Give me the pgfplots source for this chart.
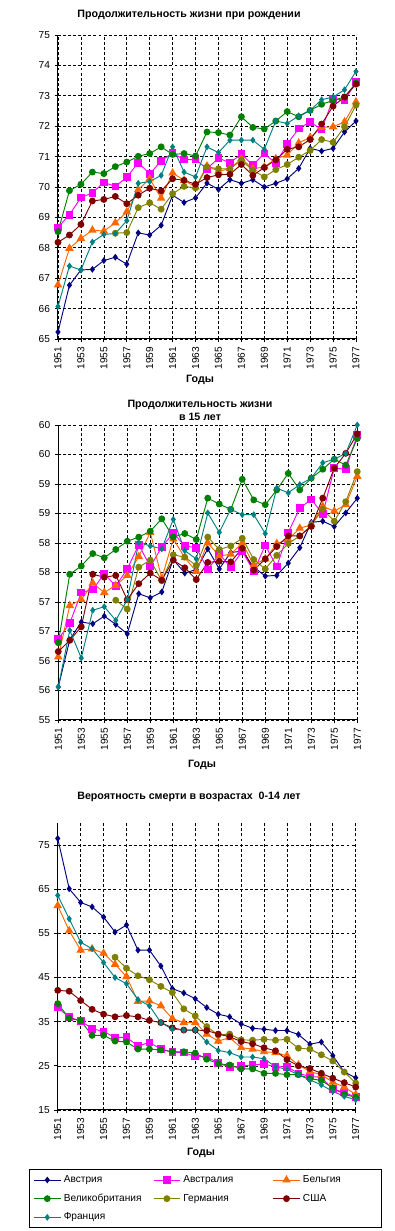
\documentclass[border=0pt]{standalone}
\usepackage{fontspec}
\setmainfont{Liberation Sans}
\usepackage{pgfplots}
\usepackage{pgfplotstable}
\pgfplotsset{compat=1.18}

\definecolor{cAut}{RGB}{0,0,128}
\definecolor{cAus}{RGB}{255,0,255}
\definecolor{cBel}{RGB}{255,102,0}
\definecolor{cGbr}{RGB}{0,128,0}
\definecolor{cGer}{RGB}{128,128,0}
\definecolor{cUsa}{RGB}{128,0,0}
\definecolor{cFra}{RGB}{0,128,128}

\pgfplotstableread{
year aut aus bel gbr ger usa fra
1951 65.23 68.67 66.78 68.53 nan 68.18 66.07
1952 66.77 69.09 67.98 69.88 nan 68.42 67.40
1953 67.27 69.65 68.31 70.09 nan 68.77 67.27
1954 67.29 69.81 68.58 70.49 nan 69.54 68.19
1955 67.58 70.15 68.55 70.44 nan 69.59 68.44
1956 67.69 70.02 68.82 70.67 68.48 69.69 68.47
1957 67.46 70.32 69.18 70.82 68.50 69.45 68.89
1958 68.49 70.80 69.91 71.01 69.32 69.73 70.12
1959 68.42 70.43 70.27 71.10 69.48 69.96 70.18
1960 68.74 70.86 69.63 71.32 69.27 69.87 70.38
1961 69.73 71.11 70.46 71.07 69.78 70.27 71.32
1962 69.49 70.90 70.22 71.10 70.02 70.22 70.49
1963 69.64 70.90 70.00 71.02 69.97 70.09 70.33
1964 70.13 70.60 70.69 71.81 70.66 70.31 71.32
1965 69.92 70.95 70.52 71.79 70.60 70.40 71.13
1966 70.24 70.80 70.60 71.71 70.60 70.42 71.54
1967 70.12 71.08 70.93 72.31 70.88 70.74 71.54
1968 70.24 70.72 70.60 71.96 70.55 70.38 71.54
1969 70.00 71.10 70.66 71.91 70.33 70.64 71.24
1970 70.12 70.78 70.93 72.17 70.57 70.89 72.17
1971 70.27 71.41 71.05 72.48 70.74 71.24 72.09
1972 70.61 71.92 71.45 72.31 70.98 71.32 72.34
1973 71.27 72.14 71.63 72.52 71.20 71.56 72.52
1974 71.18 71.89 71.96 72.72 71.56 72.07 72.87
1975 71.27 72.90 71.98 72.85 71.47 72.66 72.96
1976 71.81 72.85 72.14 72.96 71.98 72.96 73.20
1977 72.17 73.45 72.80 73.42 72.69 73.38 73.80
}\tabA

\pgfplotstableread{
year aut aus bel gbr ger usa fra
1951 55.56 56.37 56.07 56.31 nan 56.16 55.56
1952 56.36 56.64 56.94 57.47 nan 56.35 56.52
1953 56.66 57.16 57.04 57.61 nan 56.58 56.05
1954 56.63 57.21 57.32 57.82 nan 57.47 56.86
1955 56.76 57.48 57.16 57.75 nan 57.42 56.92
1956 56.62 57.27 57.28 57.89 57.03 57.45 56.69
1957 56.46 57.56 57.45 58.03 56.88 57.04 57.04
1958 57.14 57.97 57.77 58.10 57.59 57.31 58.01
1959 57.07 57.60 58.18 58.20 57.71 57.49 57.95
1960 57.17 57.93 57.40 58.41 57.36 57.37 57.90
1961 57.72 58.17 58.07 58.10 57.80 57.71 58.40
1962 57.49 57.95 57.75 58.16 57.76 57.58 57.87
1963 57.55 57.92 57.52 58.06 57.62 57.38 57.73
1964 57.90 57.55 58.00 58.76 58.10 57.67 58.51
1965 57.56 57.81 57.78 58.66 57.89 57.69 58.18
1966 57.84 57.59 57.81 58.57 57.95 57.68 58.57
1967 57.86 57.86 58.00 59.08 58.08 57.91 58.48
1968 57.59 57.52 57.63 58.73 57.72 57.54 58.48
1969 57.44 57.96 57.73 58.65 57.56 57.73 58.16
1970 57.45 57.60 57.99 58.90 57.79 57.94 58.93
1971 57.66 58.18 58.06 59.18 57.99 58.12 58.85
1972 57.92 58.59 58.25 58.90 58.12 58.12 58.99
1973 58.35 58.74 58.31 59.10 58.30 58.28 59.10
1974 58.37 58.49 58.62 59.25 58.57 58.76 59.36
1975 58.28 59.27 58.54 59.42 58.37 59.27 59.42
1976 58.51 59.25 58.65 59.32 58.70 59.52 59.52
1977 58.76 59.83 59.13 59.77 59.21 59.85 60.00
}\tabB

\pgfplotstableread{
year aut aus bel gbr ger usa fra
1951 76.5 38.2 61.3 39.1 nan 42.1 63.6
1952 65.1 36.0 55.6 35.8 nan 41.9 58.3
1953 62.0 35.2 51.2 35.2 nan 39.8 53.0
1954 61.0 33.4 51.5 31.9 nan 37.8 51.5
1955 58.7 32.8 50.5 31.9 nan 36.7 48.4
1956 55.3 31.4 48.0 30.6 49.6 36.1 45.0
1957 56.9 31.5 45.2 30.4 47.1 36.4 43.6
1958 51.2 29.5 39.6 28.8 45.4 36.1 40.0
1959 51.2 30.3 39.7 28.8 44.5 35.3 38.6
1960 47.6 28.8 38.6 28.6 43.0 34.8 34.8
1961 42.5 28.1 35.7 28.2 41.6 33.6 33.3
1962 41.5 28.0 34.8 28.2 37.9 33.1 33.1
1963 40.2 27.1 34.8 27.9 36.3 33.1 33.1
1964 38.2 27.1 32.2 26.5 33.9 33.0 30.4
1965 36.7 25.6 30.6 25.5 32.0 32.2 28.5
1966 36.1 24.7 31.4 25.2 32.2 31.6 28.0
1967 34.5 25.0 29.1 24.3 30.9 30.5 27.0
1968 33.5 25.2 28.8 24.3 30.8 30.0 27.0
1969 33.3 25.4 28.2 23.3 31.0 29.1 26.6
1970 33.0 24.8 28.0 23.3 30.8 28.4 24.8
1971 33.0 24.8 27.3 23.0 31.0 26.4 24.2
1972 32.1 23.3 25.2 23.0 29.0 25.0 23.0
1973 29.9 22.6 23.7 22.1 28.8 24.4 21.8
1974 30.4 22.4 23.0 21.7 27.5 23.3 20.7
1975 27.3 19.7 21.3 20.0 26.1 22.2 19.2
1976 23.6 19.0 20.2 18.5 23.6 21.2 18.1
1977 22.3 17.9 18.5 17.9 21.1 20.2 17.3
}\tabC

\newcommand{\tickfont}{\fontsize{7.6}{9}\selectfont}
\newcommand{\titlefont}{\fontsize{8}{9.5}\selectfont\bfseries}

\pgfplotsset{
  base/.style={
    scale only axis,
    clip=false,
    axis x line*=bottom, axis y line*=left,
    xmin=1951, xmax=1977,
    xtick={1951,1953,...,1977},
    x tick label style={rotate=90, anchor=east, font=\tickfont},
    y tick label style={font=\tickfont},
    /pgf/number format/1000 sep={},
    /pgf/number format/assume math mode=true,
    tick align=outside,
    major tick length=2.5pt,
    tick style={black, line width=0.6pt},
    grid=major,
    major grid style={black, line width=0.5pt, dash pattern=on 2.2pt off 1.6pt},
    axis line style={black, line width=0.75pt},
    every axis plot/.append style={line width=0.7pt},
  },
  sAut/.style={color=cAut, mark=diamond*, mark size=2pt},
  sAus/.style={color=cAus, mark=square*, mark size=2.5pt},
  sBel/.style={color=cBel, mark=triangle*, mark size=3pt},
  sGbr/.style={color=cGbr, mark=*, mark size=2.2pt},
  sGer/.style={color=cGer, mark=*, mark size=2.2pt},
  sUsa/.style={color=cUsa, mark=*, mark size=2.2pt},
  sFra/.style={color=cFra, mark=diamond*, mark size=2pt},
}

\begin{document}
\begin{tikzpicture}
\useasboundingbox (0,0) rectangle (295.5pt,923.25pt);

% Panel 1
\begin{axis}[base, at={(43.5pt,669pt)}, anchor=south west,
  width=223.5pt, height=228pt,
  ymin=65, ymax=75, ytick={65,66,...,75}]
  \addplot[sAut] table[x=year,y=aut]{\tabA};
  \addplot[sAus] table[x=year,y=aus]{\tabA};
  \addplot[sBel] table[x=year,y=bel]{\tabA};
  \addplot[sGbr] table[x=year,y=gbr]{\tabA};
  \addplot[sGer] table[x=year,y=ger]{\tabA};
  \addplot[sUsa] table[x=year,y=usa]{\tabA};
  \addplot[sFra] table[x=year,y=fra]{\tabA};
\end{axis}

% Panel 2
\begin{axis}[base, at={(43.7pt,383.25pt)}, anchor=south west,
  width=224.25pt, height=221.25pt,
  ymin=55, ymax=60, ytick={55,55.5,...,60},
  yticklabels={55,56,56,57,57,58,58,59,59,60,60}]
  \addplot[sAut] table[x=year,y=aut]{\tabB};
  \addplot[sAus] table[x=year,y=aus]{\tabB};
  \addplot[sBel] table[x=year,y=bel]{\tabB};
  \addplot[sGbr] table[x=year,y=gbr]{\tabB};
  \addplot[sGer] table[x=year,y=ger]{\tabB};
  \addplot[sUsa] table[x=year,y=usa]{\tabB};
  \addplot[sFra] table[x=year,y=fra]{\tabB};
\end{axis}

% Panel 3
\begin{axis}[base, at={(43.3pt,90.75pt)}, anchor=south west,
  width=223.5pt, height=215.25pt,
  ymin=15, ymax=80, ytick={15,25,...,75},
  legend columns=3,
  legend cell align=left,
  legend image code/.code={\draw[#1, mark repeat=2, mark phase=2] plot coordinates {(0pt,0pt) (10pt,0pt) (20pt,0pt)};},
  legend style={at={(axis description cs:0,0)}, anchor=north west,
    xshift=-21.55pt, yshift=-44.25pt, draw=black, line width=0.75pt,
    font=\tickfont, inner xsep=3pt, inner ysep=2.5pt, row sep=3.1pt,
    /tikz/every even column/.append style={column sep=0pt}}]
  \addplot[sAut] table[x=year,y=aut]{\tabC};
  \addlegendentry{\makebox[65pt][l]{Австрия}}
  \addplot[sAus] table[x=year,y=aus]{\tabC};
  \addlegendentry{\makebox[65pt][l]{Австралия}}
  \addplot[sBel] table[x=year,y=bel]{\tabC};
  \addlegendentry{\makebox[54pt][l]{Бельгия}}
  \addplot[sGbr] table[x=year,y=gbr]{\tabC};
  \addlegendentry{\makebox[65pt][l]{Великобритания}}
  \addplot[sGer] table[x=year,y=ger]{\tabC};
  \addlegendentry{\makebox[65pt][l]{Германия}}
  \addplot[sUsa] table[x=year,y=usa]{\tabC};
  \addlegendentry{\makebox[54pt][l]{США}}
  \addplot[sFra] table[x=year,y=fra]{\tabC};
  \addlegendentry{\makebox[65pt][l]{Франция}}
\end{axis}

% Titles and axis labels
\node[font=\titlefont] at (141.75pt,912pt) {Продолжительность жизни при рождении};
\node[font=\titlefont, align=center] at (150pt,615.4pt) {Продолжительность жизни\\в 15 лет};
\node[font=\titlefont] at (141.75pt,325.5pt) {Вероятность смерти в возрастах\ \ 0-14 лет};
\node[font=\titlefont] at (150pt,638.25pt) {Годы};
\node[font=\titlefont] at (151.5pt,349.5pt) {Годы};
\node[font=\titlefont] at (150.75pt,58.5pt) {Годы};
\end{tikzpicture}
\end{document}
